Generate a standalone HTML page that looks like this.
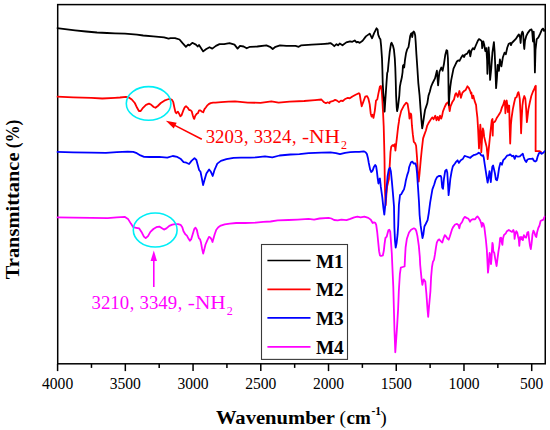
<!DOCTYPE html>
<html><head><meta charset="utf-8"><style>
html,body{margin:0;padding:0;background:#fff;}
body{width:550px;height:430px;overflow:hidden;font-family:"Liberation Serif",serif;}
svg{display:block;}
</style></head><body>
<svg width="550" height="430" viewBox="0 0 550 430">
<rect width="550" height="430" fill="#fff"/>
<defs><clipPath id="c"><rect x="56.7" y="4.6" width="488.55" height="359.2"/></clipPath></defs>
<rect x="57.7" y="4.6" width="487.55" height="359.2" fill="none" stroke="#000" stroke-width="1.5"/>
<g clip-path="url(#c)">
<polyline points="57.0,96.7 73.2,97.3 91.4,97.8 102.3,98.5 115.0,97.8 120.0,97.5 125.9,96.8 128.9,97.5 131.8,99.5 134.8,103.0 137.1,107.8 138.9,111.0 140.7,111.0 143.0,107.8 146.0,104.8 149.0,103.6 151.3,104.8 153.7,107.0 155.5,107.8 157.8,106.0 160.8,103.0 164.3,100.7 167.3,99.5 169.6,98.9 172.0,99.9 173.2,101.9 173.5,103.2 174.4,107.6 175.4,112.0 176.3,113.2 177.9,111.6 178.8,113.2 180.4,116.3 181.6,115.1 183.2,110.7 184.8,107.2 186.0,106.3 187.6,107.6 189.2,110.1 190.4,110.1 191.7,111.3 192.9,115.7 193.9,118.6 194.3,118.8 195.3,115.8 196.6,113.9 197.8,113.3 199.1,110.4 200.4,110.4 202.0,111.7 203.2,112.3 204.5,109.1 205.8,107.5 207.4,105.3 208.7,104.1 210.6,103.1 213.1,102.6 215.5,102.6 221.1,102.2 228.4,101.7 235.0,101.4 247.7,102.6 260.5,102.8 271.4,101.4 278.6,102.6 289.5,101.7 304.1,101.0 315.0,100.1 321.4,99.5 324.1,102.3 325.9,103.2 327.7,102.3 329.5,103.2 330.0,101.9 332.6,101.2 335.1,99.9 337.0,100.6 339.0,102.1 340.9,100.6 342.8,101.0 344.7,99.3 347.9,97.8 349.8,98.3 352.4,96.5 355.6,94.8 358.8,93.2 359.7,94.2 360.7,100.6 361.7,106.3 363.3,101.9 365.2,96.7 367.1,96.1 368.4,98.7 369.7,104.4 370.7,113.4 371.6,116.6 372.5,114.7 373.5,117.9 374.8,110.8 376.0,100.6 377.3,99.3 378.3,94.2 379.9,86.5 380.9,85.9 381.8,91.6 382.4,100.6 383.1,113.4 383.7,126.2 384.2,145.6 384.5,158.4 384.8,182.8 385.2,195.6 385.7,205.3 386.3,195.6 387.1,186.6 388.0,182.8 388.9,179.0 389.4,170.1 389.9,162.2 390.5,152.0 391.2,146.9 392.2,145.6 393.1,145.0 394.0,146.2 394.8,144.3 395.4,150.7 396.3,143.0 396.9,137.9 397.6,131.5 398.2,126.4 398.9,121.9 399.3,118.6 401.2,110.9 403.8,105.8 406.3,102.6 407.6,103.9 408.9,112.2 409.5,118.6 410.8,113.5 411.3,115.0 411.9,125.2 412.8,134.2 413.8,141.9 415.1,143.1 416.1,145.7 417.0,157.2 417.9,172.8 418.7,181.7 419.6,172.8 420.9,158.5 421.8,149.5 423.1,138.4 424.3,134.9 426.0,130.2 427.2,125.6 428.4,123.3 429.5,121.5 431.3,118.6 432.4,117.4 433.6,119.2 435.3,115.7 436.5,120.3 437.7,116.9 438.8,120.3 440.0,115.7 441.2,118.6 442.0,116.3 442.9,111.6 444.7,107.0 446.4,103.5 448.1,102.3 448.9,105.8 449.7,111.0 450.5,106.4 452.2,102.3 454.0,99.5 455.3,94.3 456.2,93.1 457.8,96.8 459.4,91.0 460.9,97.8 462.5,92.6 464.1,91.0 465.7,89.9 467.4,86.3 468.8,87.9 470.4,91.5 470.9,93.6 471.4,92.6 472.3,98.3 473.3,95.7 474.6,100.9 476.1,105.1 476.5,110.0 477.4,117.7 478.1,129.2 479.0,148.4 479.7,135.6 480.3,124.7 481.0,133.0 481.3,152.2 482.0,139.4 482.9,128.5 483.5,130.5 484.2,136.9 485.4,142.0 486.7,147.1 487.3,153.5 487.7,159.2 488.4,152.2 489.3,143.3 490.2,134.3 491.2,125.3 491.8,120.2 492.5,119.0 492.7,135.6 493.1,122.8 494.0,122.2 495.0,121.5 496.0,119.6 496.9,117.7 498.2,115.8 499.5,113.8 500.8,111.3 501.9,107.5 503.2,104.9 504.5,100.5 505.1,105.6 505.4,113.3 506.1,102.4 506.7,100.5 507.4,105.6 507.9,112.0 508.3,105.6 509.2,105.6 509.6,125.0 510.2,143.5 510.9,125.0 511.5,118.4 512.8,109.4 514.1,103.0 515.3,97.9 516.6,97.3 517.9,92.8 518.5,92.2 519.2,95.3 519.8,99.2 520.5,113.3 521.1,133.3 521.7,118.4 522.4,105.6 523.3,99.2 524.3,96.0 525.3,98.5 526.2,109.4 526.9,122.2 527.5,117.1 528.4,109.4 529.7,103.0 531.3,96.0 533.0,91.5 534.3,89.0 535.2,86.4 535.8,85.8 535.7,105.0 535.6,151.2 539.7,151.2 541.0,152.0" fill="none" stroke="#ff0000" stroke-width="1.8" stroke-linejoin="round" stroke-linecap="round"/>
<polyline points="57.0,151.9 73.2,152.3 91.4,152.6 105.9,152.8 116.8,152.1 127.7,151.7 133.2,151.9 136.8,153.2 140.5,155.4 144.1,156.8 149.5,157.0 159.1,156.9 167.3,157.6 172.7,156.0 177.3,156.9 180.9,159.1 183.6,162.2 186.4,162.7 189.1,164.0 191.5,160.9 194.5,158.2 196.4,160.0 197.6,164.5 199.1,170.0 200.5,171.8 201.8,178.2 203.1,185.1 204.5,180.0 206.4,173.6 209.1,169.5 210.9,171.8 212.7,176.0 214.5,170.0 217.3,163.6 220.9,160.9 226.4,159.1 233.6,157.8 240.9,157.6 250.0,157.6 255.9,157.3 265.0,156.4 272.3,157.3 279.5,155.5 290.5,154.5 299.5,154.2 308.6,153.1 321.4,152.7 330.5,152.4 335.9,153.1 340.0,154.1 345.1,152.8 350.2,152.2 355.3,151.9 359.2,151.8 363.7,151.3 365.6,152.2 366.9,154.1 367.9,157.9 368.8,163.0 370.1,169.4 371.3,172.0 372.6,170.7 373.9,166.9 375.2,164.9 376.1,166.2 376.8,170.7 377.7,178.4 378.4,183.5 379.0,179.7 379.9,178.4 380.8,186.7 382.3,197.3 383.4,207.9 384.3,214.7 385.3,204.9 386.4,189.8 387.6,176.2 388.8,169.4 389.9,167.8 390.9,171.6 391.8,180.7 392.9,192.8 394.0,206.4 394.4,227.8 395.0,240.6 395.7,247.6 396.6,243.1 397.6,234.2 398.2,225.2 398.9,205.0 400.0,195.1 401.2,194.3 402.7,191.5 404.0,189.4 405.0,185.3 405.9,180.2 407.2,175.1 408.5,171.3 409.1,167.3 411.0,162.2 412.3,161.6 413.6,163.5 415.5,163.5 416.4,167.0 417.0,172.8 417.9,185.6 419.0,202.2 419.6,215.0 420.6,225.2 421.9,234.2 422.5,238.0 423.4,234.2 424.4,226.5 425.7,224.0 427.6,220.1 428.8,213.0 430.1,202.8 431.4,195.1 432.4,189.4 434.3,184.3 435.6,179.8 436.9,177.3 438.8,176.0 440.7,176.0 441.3,177.3 442.2,187.5 443.0,188.8 443.9,179.2 445.2,170.9 446.5,169.6 447.3,172.8 448.1,185.6 448.6,195.2 449.4,188.1 450.3,179.2 451.6,171.5 452.8,166.4 454.8,163.8 456.3,161.6 457.6,160.3 458.8,162.9 460.8,160.3 462.7,159.1 464.6,155.9 466.5,156.5 468.4,157.2 470.3,157.8 471.6,156.5 473.5,155.2 475.5,154.6 477.4,153.7 478.7,152.7 479.9,153.3 481.2,155.2 482.5,155.9 483.1,155.2 483.8,157.8 484.7,164.2 485.7,170.6 486.7,177.0 487.6,182.7 488.5,178.3 489.5,171.2 490.2,175.7 490.8,182.1 491.5,174.4 492.3,166.7 493.1,165.5 494.0,169.3 494.9,173.1 495.9,179.5 497.0,180.2 497.8,177.0 499.1,168.0 500.4,162.9 501.9,164.7 503.2,160.2 505.1,158.3 507.0,155.7 509.0,155.1 510.2,154.4 512.2,156.3 513.4,155.7 514.7,158.9 516.0,155.7 517.9,156.7 519.8,156.3 521.1,155.1 522.8,153.8 523.7,157.0 524.9,160.2 526.2,162.1 527.5,159.5 529.4,158.9 531.3,158.9 532.6,158.5 533.9,160.8 535.2,161.5 536.5,160.8 537.7,156.3 539.0,153.1 540.3,152.5 541.6,153.8 542.8,153.1 544.1,151.9 544.8,151.2" fill="none" stroke="#0000ff" stroke-width="1.8" stroke-linejoin="round" stroke-linecap="round"/>
<polyline points="57.0,28.2 65.0,29.2 75.0,30.3 86.0,31.5 97.0,32.5 107.0,33.0 115.0,33.3 125.0,33.7 131.0,34.1 137.0,34.7 143.2,35.5 153.2,36.3 164.1,37.4 168.6,38.6 170.5,38.1 175.0,38.1 179.5,39.5 182.6,43.2 185.9,46.8 188.1,44.6 189.5,45.4 192.3,42.8 195.9,44.6 197.7,46.5 199.0,45.0 200.8,47.7 203.2,51.4 205.9,49.2 209.5,47.2 212.3,48.6 215.9,45.9 219.5,44.1 224.1,44.1 229.5,43.2 234.5,44.6 237.6,48.6 240.0,45.9 243.6,46.5 246.7,48.3 250.0,46.8 257.3,46.5 266.4,45.4 270.0,46.8 272.7,49.0 275.5,46.8 280.0,45.4 286.4,45.9 295.5,45.9 298.7,46.8 300.9,45.4 311.8,44.6 320.9,44.1 325.0,43.8 328.3,43.5 330.5,43.1 332.1,44.2 334.3,46.2 336.5,44.2 338.1,45.3 339.7,43.5 342.5,45.3 346.3,42.4 350.1,41.3 352.3,41.8 354.7,40.5 356.6,42.4 357.7,41.8 359.7,42.9 362.6,40.7 365.9,36.4 369.7,33.6 372.1,38.3 374.1,33.1 376.5,28.3 377.6,29.6 378.2,34.7 379.5,37.9 380.4,39.2 381.1,45.6 382.0,58.4 382.4,70.0 382.7,82.8 383.3,93.0 384.2,103.3 384.6,111.6 385.2,102.0 385.9,91.7 386.5,82.8 387.2,73.0 387.8,71.5 388.4,64.8 389.7,52.0 391.0,43.7 391.6,42.8 392.9,45.6 393.9,49.4 394.8,58.4 395.3,68.0 395.7,80.0 396.1,95.6 396.7,107.1 397.1,111.2 398.0,107.0 399.3,95.6 399.9,86.6 400.6,82.8 401.2,80.2 401.9,77.0 402.6,72.0 402.9,66.0 403.5,65.0 404.2,67.5 405.0,59.9 406.1,52.9 407.1,49.4 408.5,47.1 409.4,41.3 410.2,36.0 411.0,33.7 411.7,33.1 412.2,37.2 412.9,32.6 413.7,31.4 414.5,32.6 415.2,35.5 415.7,42.4 416.4,54.1 417.2,65.7 417.8,75.0 418.3,82.8 419.6,95.6 420.5,108.4 421.3,118.6 422.2,128.4 422.8,125.0 424.1,116.0 425.1,109.7 426.0,107.1 427.3,103.3 428.5,95.6 429.8,91.7 431.1,86.6 432.4,83.5 435.0,78.4 436.9,70.7 437.5,78.0 438.1,85.4 438.8,78.0 439.4,72.0 441.3,67.5 442.6,70.7 443.9,64.3 445.2,55.3 446.5,50.2 447.3,50.8 447.9,58.0 448.3,72.0 448.6,95.0 448.9,105.0 449.4,95.6 450.3,86.6 451.2,80.2 452.2,75.1 453.5,68.6 455.4,64.7 456.9,61.5 458.2,60.3 459.5,60.9 460.8,58.3 462.7,55.1 464.0,57.1 465.2,54.5 467.2,53.6 468.4,51.3 469.3,50.3 470.3,56.4 471.4,50.7 472.9,48.1 474.2,49.4 475.8,45.5 477.7,41.1 479.0,39.1 480.6,40.0 481.8,41.3 482.2,48.1 483.3,41.3 484.3,45.1 485.3,51.2 486.3,48.1 487.1,60.2 487.4,73.8 487.8,60.2 488.6,47.4 489.3,57.2 490.1,79.9 491.3,67.8 492.4,52.7 493.9,42.1 494.6,51.2 495.4,69.3 496.1,88.2 496.9,78.4 497.7,64.8 498.9,70.8 499.9,59.5 501.4,66.3 502.9,57.2 504.5,52.7 505.8,54.3 507.3,47.5 508.8,43.7 510.3,43.0 511.0,45.2 511.8,43.0 513.3,41.5 515.6,39.2 517.1,36.9 518.9,34.4 520.1,37.7 520.6,43.0 521.3,34.7 522.4,31.6 523.1,33.1 523.9,45.2 524.3,49.0 525.0,40.7 526.2,36.2 527.7,33.1 529.9,30.1 531.5,29.4 532.2,31.6 533.0,41.5 533.7,31.6 534.5,48.3 534.9,72.4 535.5,49.8 536.7,39.2 538.3,37.7 540.1,33.9 542.0,29.4 543.1,28.6 544.0,30.9 544.6,30.1" fill="none" stroke="#000000" stroke-width="1.8" stroke-linejoin="round" stroke-linecap="round"/>
<polyline points="57.0,217.3 73.2,217.6 91.4,217.8 107.7,218.2 116.8,217.3 125.0,216.9 128.0,218.9 130.9,223.6 133.3,227.2 136.2,227.8 139.2,228.4 141.5,231.9 143.9,236.6 145.7,238.1 148.0,236.1 150.4,231.9 153.4,229.0 156.3,227.2 159.3,226.6 161.6,228.1 164.0,229.6 166.4,228.4 169.3,225.8 172.3,224.6 175.2,224.2 178.2,224.2 180.6,224.8 182.3,227.2 183.5,231.3 185.3,234.3 186.9,235.6 188.6,238.8 189.9,240.7 191.1,239.4 192.7,234.3 194.2,229.2 195.5,227.7 196.8,229.8 197.8,234.3 198.8,238.1 200.1,239.4 201.0,242.6 202.0,248.4 203.2,253.5 204.2,249.7 205.5,244.5 207.4,240.1 209.0,236.9 210.3,237.5 211.6,239.4 212.5,242.0 213.4,238.8 214.7,234.3 216.3,229.8 218.3,227.3 220.8,225.6 224.7,224.3 229.8,223.6 236.2,223.0 245.0,223.0 255.9,222.7 263.2,221.8 270.5,221.5 277.7,220.4 288.6,220.0 297.7,219.6 308.6,218.9 314.1,219.6 319.5,218.5 328.6,217.8 331.4,218.5 334.1,220.0 337.7,220.4 341.4,219.6 346.5,220.2 350.3,218.9 354.2,217.3 357.4,216.6 360.6,217.3 364.4,216.6 368.3,217.9 370.8,219.8 372.7,223.0 374.0,222.4 375.3,222.8 376.2,224.9 377.2,232.0 378.2,242.2 379.1,251.2 380.0,255.5 381.0,256.0 382.9,255.3 383.8,250.8 384.5,244.4 385.4,238.0 386.7,236.7 387.3,234.2 388.4,230.3 389.3,229.7 390.2,231.6 390.9,240.6 391.8,253.4 392.3,265.0 393.3,287.1 393.9,309.2 394.5,331.0 395.3,352.3 396.3,337.9 397.2,324.6 398.1,309.2 398.8,291.5 399.9,273.8 400.8,267.6 402.7,267.0 404.6,266.5 405.0,258.0 405.6,247.5 406.9,238.7 409.0,232.5 411.1,229.7 413.9,228.3 415.3,229.0 416.3,231.0 417.4,235.9 418.8,245.7 419.8,256.9 420.2,265.0 421.5,278.3 422.4,284.9 423.7,279.4 425.3,281.6 426.4,293.7 427.5,309.2 428.2,316.9 429.0,307.0 430.4,291.5 431.1,277.2 432.0,267.0 432.9,261.9 434.0,259.9 435.0,254.2 435.9,247.8 436.8,242.7 437.8,240.5 439.1,239.3 441.0,241.3 442.3,242.5 443.5,238.5 444.8,235.2 446.1,236.5 447.4,238.5 448.7,239.7 449.9,236.3 450.6,234.1 451.9,229.7 453.1,227.1 455.1,224.5 457.0,223.9 458.5,225.2 459.3,228.4 460.2,224.5 462.1,222.0 463.4,218.8 464.7,216.9 466.6,217.9 468.5,218.8 470.0,221.7 471.3,219.8 473.2,219.2 475.1,219.4 476.4,217.3 477.4,216.4 478.7,217.9 480.2,220.5 481.3,223.7 481.8,226.9 482.5,223.0 483.4,223.7 484.3,226.9 485.1,233.3 485.9,240.0 486.8,249.3 487.3,258.6 488.0,272.6 488.7,266.0 489.2,258.6 489.6,253.0 490.1,254.9 491.0,264.2 491.5,258.6 492.0,249.3 492.4,242.8 492.9,244.7 493.3,251.2 494.3,253.0 495.2,258.6 496.6,266.0 497.5,258.6 498.5,251.2 499.4,245.6 500.1,238.0 501.1,237.7 501.7,242.2 502.4,244.8 503.0,238.4 503.9,235.2 505.8,233.3 506.9,231.2 508.8,229.9 510.8,231.2 512.0,231.9 513.3,229.9 514.2,232.5 514.6,238.9 515.2,234.4 516.3,231.2 517.2,232.5 518.0,236.3 518.8,239.5 519.3,245.9 520.1,237.0 521.0,239.5 521.9,237.0 522.9,240.2 523.9,235.1 524.8,237.0 526.1,237.6 527.4,232.5 528.3,231.9 529.0,238.3 530.0,245.9 530.8,249.1 531.6,243.4 532.5,234.4 533.4,230.6 534.4,232.5 535.4,235.7 536.3,237.0 537.2,231.9 538.3,228.0 539.5,225.5 540.6,221.0 541.8,220.3 543.4,219.7 544.4,217.2 544.9,216.5" fill="none" stroke="#ff00ff" stroke-width="1.8" stroke-linejoin="round" stroke-linecap="round"/>
</g>
<ellipse cx="148.6" cy="103.4" rx="22.3" ry="16.8" fill="none" stroke="#00eef6" stroke-width="1.6"/>
<ellipse cx="155.2" cy="230" rx="21.9" ry="17" fill="none" stroke="#00eef6" stroke-width="1.6"/>
<line x1="174.34" y1="125.15" x2="201.80" y2="139.30" stroke="#ff0000" stroke-width="1.6"/><polygon points="165.90,120.80 173.77,128.45 176.70,122.77" fill="#ff0000"/>
<line x1="153.80" y1="260.00" x2="153.80" y2="287.10" stroke="#ff00ff" stroke-width="1.6"/><polygon points="153.80,250.50 150.60,261.00 157.00,261.00" fill="#ff00ff"/>
<line x1="57.60" y1="363.8" x2="57.60" y2="371.1" stroke="#000" stroke-width="1.5"/>
<text x="42.00" y="388.7" font-family="Liberation Serif" font-size="17.2" textLength="31.2" lengthAdjust="spacingAndGlyphs">4000</text>
<line x1="91.47" y1="363.8" x2="91.47" y2="367.9" stroke="#000" stroke-width="1.5"/>
<line x1="125.33" y1="363.8" x2="125.33" y2="371.1" stroke="#000" stroke-width="1.5"/>
<text x="109.73" y="388.7" font-family="Liberation Serif" font-size="17.2" textLength="31.2" lengthAdjust="spacingAndGlyphs">3500</text>
<line x1="159.19" y1="363.8" x2="159.19" y2="367.9" stroke="#000" stroke-width="1.5"/>
<line x1="193.06" y1="363.8" x2="193.06" y2="371.1" stroke="#000" stroke-width="1.5"/>
<text x="177.46" y="388.7" font-family="Liberation Serif" font-size="17.2" textLength="31.2" lengthAdjust="spacingAndGlyphs">3000</text>
<line x1="226.92" y1="363.8" x2="226.92" y2="367.9" stroke="#000" stroke-width="1.5"/>
<line x1="260.79" y1="363.8" x2="260.79" y2="371.1" stroke="#000" stroke-width="1.5"/>
<text x="245.19" y="388.7" font-family="Liberation Serif" font-size="17.2" textLength="31.2" lengthAdjust="spacingAndGlyphs">2500</text>
<line x1="294.66" y1="363.8" x2="294.66" y2="367.9" stroke="#000" stroke-width="1.5"/>
<line x1="328.52" y1="363.8" x2="328.52" y2="371.1" stroke="#000" stroke-width="1.5"/>
<text x="312.92" y="388.7" font-family="Liberation Serif" font-size="17.2" textLength="31.2" lengthAdjust="spacingAndGlyphs">2000</text>
<line x1="362.38" y1="363.8" x2="362.38" y2="367.9" stroke="#000" stroke-width="1.5"/>
<line x1="396.25" y1="363.8" x2="396.25" y2="371.1" stroke="#000" stroke-width="1.5"/>
<text x="380.65" y="388.7" font-family="Liberation Serif" font-size="17.2" textLength="31.2" lengthAdjust="spacingAndGlyphs">1500</text>
<line x1="430.12" y1="363.8" x2="430.12" y2="367.9" stroke="#000" stroke-width="1.5"/>
<line x1="463.98" y1="363.8" x2="463.98" y2="371.1" stroke="#000" stroke-width="1.5"/>
<text x="448.38" y="388.7" font-family="Liberation Serif" font-size="17.2" textLength="31.2" lengthAdjust="spacingAndGlyphs">1000</text>
<line x1="497.85" y1="363.8" x2="497.85" y2="367.9" stroke="#000" stroke-width="1.5"/>
<line x1="531.71" y1="363.8" x2="531.71" y2="371.1" stroke="#000" stroke-width="1.5"/>
<text x="520.11" y="388.7" font-family="Liberation Serif" font-size="17.2" textLength="23.2" lengthAdjust="spacingAndGlyphs">500</text>
<rect x="261.5" y="244.5" width="86" height="114.9" fill="#fff" stroke="#3a3a3a" stroke-width="1.1"/>
<line x1="267.4" y1="260.5" x2="310.5" y2="260.5" stroke="#000000" stroke-width="1.7"/>
<text x="315.9" y="267.5" font-family="Liberation Serif" font-weight="bold" font-size="19" textLength="27.8" lengthAdjust="spacingAndGlyphs">M1</text>
<line x1="267.4" y1="289.4" x2="310.5" y2="289.4" stroke="#ff0000" stroke-width="1.7"/>
<text x="315.9" y="296.3" font-family="Liberation Serif" font-weight="bold" font-size="19" textLength="27.8" lengthAdjust="spacingAndGlyphs">M2</text>
<line x1="267.4" y1="317.9" x2="310.5" y2="317.9" stroke="#0000ff" stroke-width="1.7"/>
<text x="315.9" y="325.0" font-family="Liberation Serif" font-weight="bold" font-size="19" textLength="27.8" lengthAdjust="spacingAndGlyphs">M3</text>
<line x1="267.4" y1="346.9" x2="310.5" y2="346.9" stroke="#ff00ff" stroke-width="1.7"/>
<text x="315.9" y="353.7" font-family="Liberation Serif" font-weight="bold" font-size="19" textLength="27.8" lengthAdjust="spacingAndGlyphs">M4</text>
<text x="205.7" y="143.3" font-family="Liberation Serif" font-size="18" fill="#ff0000" textLength="37.6" lengthAdjust="spacingAndGlyphs">3203</text>
<text x="243.9" y="143.3" font-family="Liberation Serif" font-size="18" fill="#ff0000">,</text>
<text x="253.7" y="143.3" font-family="Liberation Serif" font-size="18" fill="#ff0000" textLength="37.6" lengthAdjust="spacingAndGlyphs">3324</text>
<text x="291.9" y="143.3" font-family="Liberation Serif" font-size="18" fill="#ff0000">,</text>
<text x="302.0" y="143.3" font-family="Liberation Serif" font-size="18" fill="#ff0000" textLength="38.0" lengthAdjust="spacingAndGlyphs">-NH</text>
<text x="340.9" y="149.4" font-family="Liberation Serif" font-size="12" fill="#ff0000">2</text>
<text x="91.5" y="308.8" font-family="Liberation Serif" font-size="18" fill="#ff00ff" textLength="37.6" lengthAdjust="spacingAndGlyphs">3210</text>
<text x="129.7" y="308.8" font-family="Liberation Serif" font-size="18" fill="#ff00ff">,</text>
<text x="139.5" y="308.8" font-family="Liberation Serif" font-size="18" fill="#ff00ff" textLength="37.6" lengthAdjust="spacingAndGlyphs">3349</text>
<text x="177.7" y="308.8" font-family="Liberation Serif" font-size="18" fill="#ff00ff">,</text>
<text x="187.8" y="308.8" font-family="Liberation Serif" font-size="18" fill="#ff00ff" textLength="38.0" lengthAdjust="spacingAndGlyphs">-NH</text>
<text x="226.7" y="314.9" font-family="Liberation Serif" font-size="12" fill="#ff00ff">2</text>
<text x="215.9" y="423.6" font-family="Liberation Serif" font-weight="bold" font-size="19" textLength="119" lengthAdjust="spacingAndGlyphs">Wavenumber</text>
<text x="339.4" y="423.6" font-family="Liberation Serif" font-size="19.5">(</text>
<text x="346.5" y="423.6" font-family="Liberation Serif" font-weight="bold" font-size="19" textLength="24.2" lengthAdjust="spacingAndGlyphs">cm</text>
<text x="371.5" y="414.5" font-family="Liberation Serif" font-weight="bold" font-size="11.5">-1</text>
<text x="380.2" y="423.6" font-family="Liberation Serif" font-size="19.5">)</text>
<text transform="translate(19.3,279.3) rotate(-90)" x="0" y="0" font-family="Liberation Serif" font-weight="bold" font-size="19" textLength="126.8" lengthAdjust="spacingAndGlyphs">Transmittance</text>
<text transform="translate(19.3,148.2) rotate(-90)" x="0" y="0" font-family="Liberation Serif" font-weight="bold" font-size="19" textLength="28.4" lengthAdjust="spacingAndGlyphs">(%)</text>
</svg>
</body></html>
